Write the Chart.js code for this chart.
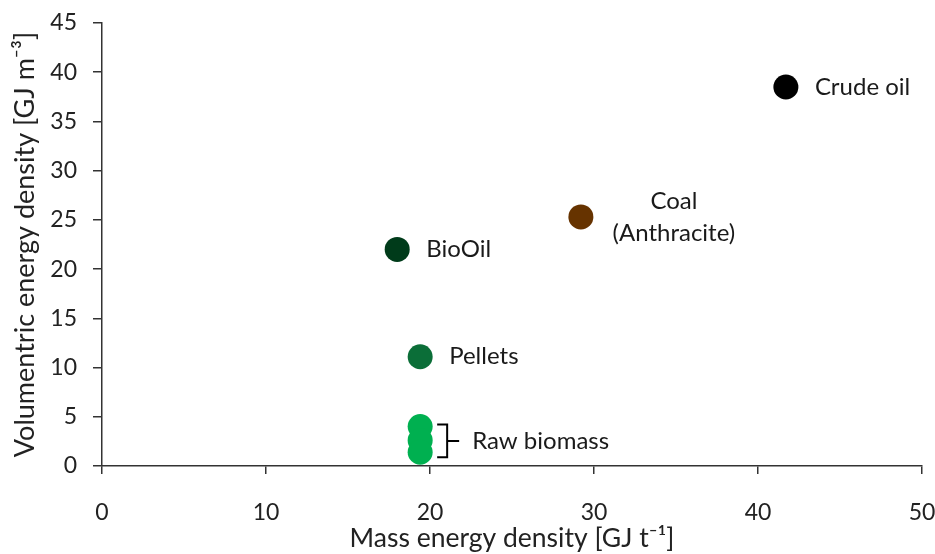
<!DOCTYPE html>
<html>
<head>
<meta charset="utf-8">
<script src="https://cdn.jsdelivr.net/npm/chart.js@4.4.1/dist/chart.umd.min.js"></script>
<style>
  html, body { margin: 0; padding: 0; background: #fff; }
  #wrap { width: 935px; height: 554px; }
</style>
</head>
<body>
<div id="wrap"><canvas id="energyChart" width="935" height="554"></canvas></div>
<script>
// data
var fuelNames = ['Crude oil', 'Coal (Anthracite)', 'BioOil', 'Pellets', 'Raw biomass'];
var crudeOil = [{ x: 41.7, y: 38.5 }];
var coal = [{ x: 29.2, y: 25.3 }];
var bioOil = [{ x: 18.0, y: 22.0 }];
var pellets = [{ x: 19.4, y: 11.1 }];
var rawBiomass = [{ x: 19.4, y: 4.0 }, { x: 19.4, y: 2.6 }, { x: 19.4, y: 1.4 }];
var fuelColors = ['#000000', '#663300', '#003b1a', '#0b6e38', '#00b050'];
var xTicks = [0, 10, 20, 30, 40, 50];
var yTicks = [0, 5, 10, 15, 20, 25, 30, 35, 40, 45];

var FONT = 'Lato, "Open Sans", sans-serif';

function mkSet(label, data, color) {
   return {
      label: label,
      data: data,
      backgroundColor: color,
      borderColor: color,
      pointRadius: 12.5,
      pointHoverRadius: 12.5,
      borderWidth: 0
   };
}

// text next to the dots
var labelPlugin = {
   id: 'fuelLabels',
   afterDatasetsDraw: function (chart) {
      var ctx = chart.ctx;
      ctx.save();
      ctx.fillStyle = '#1a1a1a';
      ctx.font = '24px ' + FONT;
      ctx.textBaseline = 'middle';
      var p;

      p = chart.getDatasetMeta(0).data[0];
      ctx.textAlign = 'left';
      ctx.fillText('Crude oil', p.x + 29, p.y);

      p = chart.getDatasetMeta(1).data[0];
      ctx.textAlign = 'center';
      ctx.fillText('Coal', p.x + 93, p.y - 16);
      ctx.fillText('(Anthracite)', p.x + 93, p.y + 16);

      p = chart.getDatasetMeta(2).data[0];
      ctx.textAlign = 'left';
      ctx.fillText('BioOil', p.x + 29, p.y);

      p = chart.getDatasetMeta(3).data[0];
      ctx.fillText('Pellets', p.x + 29, p.y);

      var raw = chart.getDatasetMeta(4).data;
      var top = raw[0].y - 2, bot = raw[raw.length - 1].y + 5;
      var mid = (top + bot) / 2;
      var bx = raw[0].x + 17;
      ctx.strokeStyle = '#000';
      ctx.lineWidth = 2;
      ctx.beginPath();
      ctx.moveTo(bx, top);
      ctx.lineTo(bx + 10, top);
      ctx.lineTo(bx + 10, bot);
      ctx.lineTo(bx, bot);
      ctx.moveTo(bx + 10, mid);
      ctx.lineTo(bx + 22, mid);
      ctx.stroke();
      ctx.fillText('Raw biomass', bx + 35, mid);
      ctx.restore();
   }
};

var chart = new Chart(document.getElementById('energyChart'), {
   type: 'scatter',
   data: {
      datasets: [
         mkSet(fuelNames[0], crudeOil, fuelColors[0]),
         mkSet(fuelNames[1], coal, fuelColors[1]),
         mkSet(fuelNames[2], bioOil, fuelColors[2]),
         mkSet(fuelNames[3], pellets, fuelColors[3]),
         mkSet(fuelNames[4], rawBiomass, fuelColors[4])
      ]
   },
   options: {
      responsive: false,
      animation: false,
      layout: { padding: { top: 23, right: 13, left: 0, bottom: 0 } },
      plugins: {
         legend: { display: false },
         tooltip: { enabled: false }
      },
      scales: {
         x: {
            type: 'linear',
            min: 0,
            max: 50,
            afterBuildTicks: function (s) { s.ticks = xTicks.map(function (v) { return { value: v }; }); },
            afterFit: function (s) { s.height = 88; s.paddingLeft = 0; s.paddingRight = 0; },
            border: { color: '#333', width: 1.5 },
            grid: { drawOnChartArea: false, color: '#333', tickLength: 8, lineWidth: 1.5 },
            ticks: { color: '#222', padding: 25, font: { family: FONT, size: 23 } },
            title: {
               display: true,
               text: 'Mass energy density [GJ t\u207B\u00B9]',
               color: '#222',
               font: { family: FONT, size: 26.5 },
               padding: { top: 0, bottom: 0 }
            }
         },
         y: {
            type: 'linear',
            min: 0,
            max: 45,
            afterBuildTicks: function (s) { s.ticks = yTicks.map(function (v) { return { value: v }; }); },
            afterFit: function (s) { s.width = 102; s.paddingTop = 0; s.paddingBottom = 0; },
            border: { color: '#333', width: 1.5 },
            grid: { drawOnChartArea: false, color: '#333', tickLength: 9, lineWidth: 1.5 },
            ticks: { color: '#222', padding: 16, font: { family: FONT, size: 23 } },
            title: {
               display: true,
               text: 'Volumentric energy density [GJ m\u207B\u00B3]',
               color: '#222',
               font: { family: FONT, size: 27 },
               padding: { top: 9, bottom: 0 }
            }
         }
      }
   },
   plugins: [labelPlugin]
});
</script>
</body>
</html>
